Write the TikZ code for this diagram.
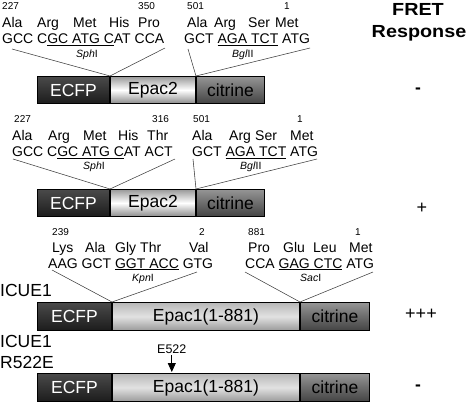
\documentclass[tikz,border=0pt]{standalone}
\usepackage{fontspec}
\setmainfont{Liberation Sans}
\usetikzlibrary{arrows.meta}
\definecolor{ecfpT}{HTML}{4A4A4A}
\definecolor{ecfpM}{HTML}{333333}
\definecolor{ecfpB}{HTML}{1C1C1C}
\definecolor{epTwoT}{HTML}{9A9A9A}
\definecolor{epTwoM}{HTML}{FFFFFF}
\definecolor{epTwoB}{HTML}{8C8C8C}
\definecolor{citT}{HTML}{959595}
\definecolor{citM}{HTML}{6C6C6C}
\definecolor{citB}{HTML}{444444}
\definecolor{epOneT}{HTML}{B8B8B8}
\definecolor{epOneM}{HTML}{E2E2E2}
\definecolor{epOneB}{HTML}{9A9A9A}
\tikzset{
  txt/.style={anchor=base west, inner sep=0pt, font=\fontsize{14}{16}\selectfont},
  num/.style={anchor=base west, inner sep=0pt, font=\fontsize{10}{12}\selectfont},
  enz/.style={anchor=base west, inner sep=0pt, font=\fontsize{10.5}{12}\selectfont},
  lbl/.style={anchor=base west, inner sep=0pt, font=\fontsize{17.5}{20}\selectfont},
  resp/.style={anchor=base, inner sep=0pt, font=\fontsize{17.5}{20}\selectfont\bfseries},
  seg/.style={draw=black, line width=1pt, minimum height=27pt, inner sep=0pt,
    anchor=north west, font=\fontsize{17.5}{20}\selectfont},
  ecfp/.style={seg, top color=ecfpT, bottom color=ecfpB, middle color=ecfpM, text=white},
  epactwo/.style={seg, top color=epTwoT, bottom color=epTwoB, middle color=epTwoM},
  epacone/.style={seg, top color=epOneT, bottom color=epOneB, middle color=epOneM},
  cit/.style={seg, top color=citT, bottom color=citB, middle color=citM},
  conn/.style={draw=black!75, line width=0.55pt},
}
\begin{document}
\begin{tikzpicture}[x=1pt,y=-1pt]
\useasboundingbox (0,0) rectangle (467,402);
\fill[white] (0,0) rectangle (467,402);

% ---------------- Row 1 ----------------
\node[num] (r1n1) at (2,9.5) {227};
\node[num] (r1n2) at (138,9.5) {350};
\node[txt] (r1a1) at (2,27) {Ala};
\node[txt] (r1a2) at (37,27) {Arg};
\node[txt] (r1a3) at (73,27) {Met};
\node[txt] (r1a4) at (109,27) {His};
\node[txt] (r1a5) at (138,27) {Pro};
\node[txt] (r1c) at (2,43.5) {GCC C\underline{GC ATG C}AT CCA};
\node[enz] (r1e) at (76,57.5) {\textit{Sph}I};
\node[num] (r1n3) at (187,9.5) {501};
\node[num] (r1n4) at (284,9.5) {1};
\node[txt] (r1b1) at (187,27) {Ala};
\node[txt] (r1b2) at (214,27) {Arg};
\node[txt] (r1b3) at (248,27) {Ser};
\node[txt] (r1b4) at (275,27) {Met};
\node[txt] (r1d) at (184,43.5) {GCT \underline{AGA TCT} ATG};
\node[enz] (r1f) at (232,57.5) {\textit{Bgl}II};

\node[ecfp, minimum width=72pt] (b1a) at (37,76) {ECFP};
\node[epactwo, minimum width=85pt] (b1b) at (b1a.north east) {Epac2};
\node[cit, minimum width=68pt] (b1c) at (b1b.north east) {citrine};

\coordinate (l1a) at (12,49);
\coordinate (l1b) at (165,48);
\coordinate (l1c) at (188,49);
\coordinate (l1d) at (310,48);
\draw[conn] (l1a) -- (b1a.north east) -- (l1b);
\draw[conn] (l1c) -- (b1b.north east) -- (l1d);

% ---------------- Row 2 ----------------
\node[num] (r2n1) at (14,122.5) {227};
\node[num] (r2n2) at (152,122.5) {316};
\node[txt] (r2a1) at (12,140) {Ala};
\node[txt] (r2a2) at (48,140) {Arg};
\node[txt] (r2a3) at (83,140) {Met};
\node[txt] (r2a4) at (118,140) {His};
\node[txt] (r2a5) at (147,140) {Thr};
\node[txt] (r2c) at (12,156.5) {GCC C\underline{GC ATG C}AT ACT};
\node[enz] (r2e) at (83,169.5) {\textit{Sph}I};
\node[num] (r2n3) at (193,122.5) {501};
\node[num] (r2n4) at (297,122.5) {1};
\node[txt] (r2b1) at (192,140) {Ala};
\node[txt] (r2b2) at (229,140) {Arg};
\node[txt] (r2b3) at (255,140) {Ser};
\node[txt] (r2b4) at (290,140) {Met};
\node[txt] (r2d) at (192,156.5) {GCT \underline{AGA TCT} ATG};
\node[enz] (r2f) at (240,169.5) {\textit{Bgl}II};

\node[ecfp, minimum width=72pt] (b2a) at (37,189) {ECFP};
\node[epactwo, minimum width=85pt] (b2b) at (b2a.north east) {Epac2};
\node[cit, minimum width=68pt] (b2c) at (b2b.north east) {citrine};

\coordinate (l2a) at (13,159);
\coordinate (l2b) at (175,159);
\coordinate (l2c) at (193,159);
\coordinate (l2d) at (317,159);
\draw[conn] (l2a) -- (b2a.north east) -- (l2b);
\draw[conn] (l2c) -- (b2b.north east) -- (l2d);

% ---------------- Row 3 ----------------
\node[num] (r3n1) at (52,235) {239};
\node[num] (r3n2) at (199,235) {2};
\node[txt] (r3a1) at (52,252) {Lys};
\node[txt] (r3a2) at (85,252) {Ala};
\node[txt] (r3a3) at (115,252) {Gly};
\node[txt] (r3a4) at (140,252) {Thr};
\node[txt] (r3a5) at (189,252) {Val};
\node[txt] (r3c) at (48,268) {AAG GCT \underline{GGT ACC} GTG};
\node[enz] (r3e) at (132,281) {\textit{Kpn}I};
\node[num] (r3n3) at (248,235) {881};
\node[num] (r3n4) at (355,235) {1};
\node[txt] (r3b1) at (248,252) {Pro};
\node[txt] (r3b2) at (283,252) {Glu};
\node[txt] (r3b3) at (313,252) {Leu};
\node[txt] (r3b4) at (349,252) {Met};
\node[txt] (r3d) at (245,268) {CCA \underline{GAG CTC} ATG};
\node[enz] (r3f) at (300,281) {\textit{Sac}I};

\node[lbl] (icue) at (0,296) {ICUE1};
\node[ecfp, minimum width=74pt, minimum height=28pt] (b3a) at (37,302) {ECFP};
\node[epacone, minimum width=187pt, minimum height=28pt] (b3b) at (b3a.north east) {Epac1(1-881)};
\node[cit, minimum width=69pt, minimum height=28pt] (b3c) at (b3b.north east) {citrine};

\coordinate (l3a) at (52,270);
\coordinate (l3b) at (197,272);
\coordinate (l3c) at (245,272);
\coordinate (l3d) at (373,272);
\draw[conn] (l3a) -- (b3a.north east) -- (l3b);
\draw[conn] (l3c) -- (b3b.north east) -- (l3d);

% ---------------- Row 4 ----------------
\node[lbl] (icuem1) at (0,347) {ICUE1};
\node[lbl] (icuem2) at (0,368) {R522E};
\node[anchor=base west, inner sep=0pt, font=\fontsize{12.5}{14}\selectfont] (e522) at (157,353) {E522};
\node[ecfp, minimum width=74pt, minimum height=28pt] (b4a) at (37,373) {ECFP};
\node[epacone, minimum width=187pt, minimum height=28pt] (b4b) at (b4a.north east) {Epac1(1-881)};
\node[cit, minimum width=69pt, minimum height=28pt] (b4c) at (b4b.north east) {citrine};
\coordinate (mut) at (e522.south |- 0,372);
\draw[line width=0.8pt, shorten <=2pt, -{Triangle[width=8pt,length=9pt]}] (e522.south) -- (mut);

% ---------------- Response ----------------
\node[resp] (fret) at (418,15) {\scalebox{1.13}[1]{FRET}};
\node[resp] (response) at (419,37) {\scalebox{1.13}[1]{Response}};
\node[resp] (s1) at (b1a.center -| fret) {\raisebox{-3pt}{-}};
\node[resp, font=\fontsize{18}{20}\selectfont] (s2) at (422,213) {+};
\node[resp, font=\fontsize{18}{20}\selectfont] (s3) at (421,319) {+++};
\node[resp] (s4) at (b4a.center -| fret) {\raisebox{-3pt}{-}};
\end{tikzpicture}
\end{document}
